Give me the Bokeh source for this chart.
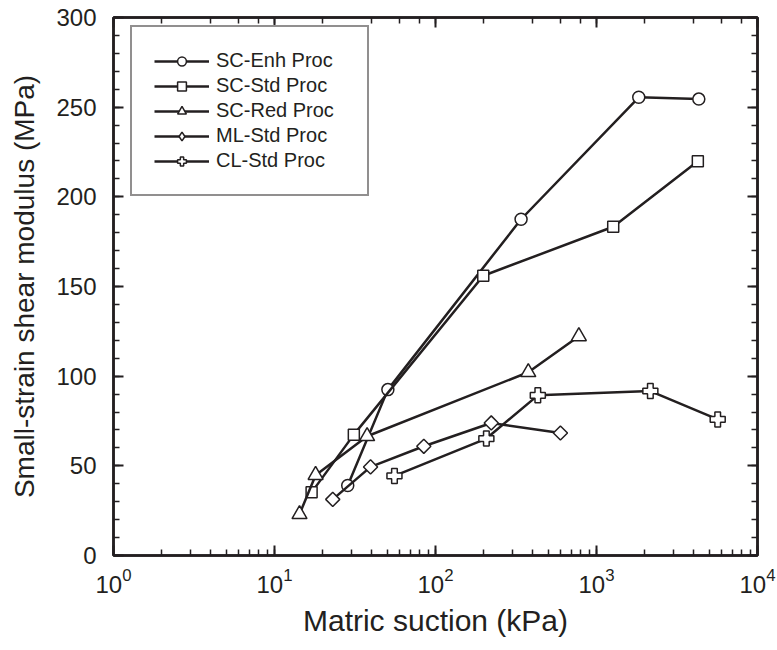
import math
from bokeh.plotting import figure
from bokeh.models import (Range1d, LinearAxis, LogAxis, SingleIntervalTicker, LogTicker,
                          Legend, LegendItem, CustomJSTickFormatter)
from bokeh.embed import file_html
from bokeh.resources import INLINE

# ---- data (matric suction in kPa, small-strain shear modulus in MPa) ----
enh_x = [28.5, 50.6, 340, 1830, 4320]
enh_y = [39.0, 92.5, 187.5, 255.5, 254.5]

std_x = [17.0, 31.1, 198, 1270, 4260]
std_y = [35.2, 67.4, 156.0, 183.3, 219.8]

red_x = [14.3, 18.0, 37.6, 377, 777]
red_y = [23.0, 44.8, 66.5, 102.2, 122.2]

ml_x = [23.0, 39.5, 84.6, 222, 597]
ml_y = [31.3, 49.4, 60.9, 73.9, 68.3]

cl_x = [55.6, 207, 432, 2160, 5660]
cl_y = [44.4, 65.2, 89.3, 91.7, 75.9]

labels = ["SC-Enh Proc", "SC-Std Proc", "SC-Red Proc", "ML-Std Proc", "CL-Std Proc"]
x_label = "Matric suction (kPa)"
y_label = "Small-strain shear modulus (MPa)"

FONT = "Liberation Sans"
INK = "#231f20"

p = figure(width=777, height=650, x_axis_type="log",
           x_range=Range1d(1, 1e4), y_range=Range1d(0, 300),
           output_backend="svg", toolbar_location=None,
           min_border_left=113, min_border_right=20,
           min_border_top=17, min_border_bottom=95)
p.xgrid.visible = False
p.ygrid.visible = False
p.background_fill_color = "white"
p.border_fill_color = "white"
p.outline_line_color = INK
p.outline_line_width = 2.5

bottom_axis = p.below[0]
left_axis = p.left[0]
left_axis.ticker = SingleIntervalTicker(interval=50, num_minor_ticks=5)

top_axis = LogAxis(ticker=LogTicker(), formatter=CustomJSTickFormatter(code="return ''"))
right_axis = LinearAxis(ticker=SingleIntervalTicker(interval=50, num_minor_ticks=5),
                        formatter=CustomJSTickFormatter(code="return ''"))
p.add_layout(top_axis, "above")
p.add_layout(right_axis, "right")

for ax in [bottom_axis, left_axis, top_axis, right_axis]:
    ax.axis_line_color = INK
    ax.axis_line_width = 2.5
    ax.major_tick_line_color = INK
    ax.minor_tick_line_color = INK
    ax.major_tick_line_width = 2
    ax.minor_tick_line_width = 1.5
    ax.major_tick_in = 10
    ax.major_tick_out = 0
    ax.minor_tick_in = 6
    ax.minor_tick_out = 0
    ax.major_label_text_font = FONT
    ax.major_label_text_font_size = "24px"
    ax.major_label_text_color = INK
    ax.axis_label_text_font = FONT
    ax.axis_label_text_font_size = "28px"
    ax.axis_label_text_font_style = "normal"
    ax.axis_label_text_color = INK

top_axis.major_label_standoff = 0
right_axis.major_label_standoff = 0

bottom_axis.axis_label = x_label
bottom_axis.axis_label_text_font_size = "30px"
bottom_axis.major_label_standoff = 12
bottom_axis.axis_label_standoff = 8
left_axis.axis_label = y_label
left_axis.major_label_standoff = 17
left_axis.axis_label_standoff = 13

series = [
    (enh_x, enh_y, dict(marker="circle", size=12)),
    (std_x, std_y, dict(marker="square", size=11)),
    (red_x, red_y, dict(marker="triangle", size=15)),
    (ml_x, ml_y, dict(marker="square", size=10, angle=math.pi / 4)),
    (cl_x, cl_y, dict(marker="plus", size=15)),
]

items = []
for i, ((xs, ys, mk), lab) in enumerate(zip(series, labels)):
    lr = p.line(xs, ys, line_color=INK, line_width=2.5)
    sr = p.scatter(xs, ys, fill_color="white", line_color=INK, line_width=1.5, **mk)
    if i == 3:
        # legend-only key: an unrotated diamond (no points drawn)
        key = p.scatter([float("nan")], [float("nan")], marker="diamond", size=18,
                        fill_color="white", line_color=INK, line_width=1.5)
        items.append(LegendItem(label=lab, renderers=[lr, key]))
    else:
        items.append(LegendItem(label=lab, renderers=[lr, sr]))

legend = Legend(items=items, location=(17, 359), margin=0, padding=22,
                glyph_width=55, glyph_height=22, label_height=22, label_width=129,
                label_standoff=7, spacing=2,
                label_text_font=FONT, label_text_font_size="20px", label_text_color=INK,
                border_line_color=INK, border_line_width=2.5,
                background_fill_color="white", background_fill_alpha=1.0)
p.add_layout(legend, "center")

open("out.html", "w").write(file_html(p, INLINE))
